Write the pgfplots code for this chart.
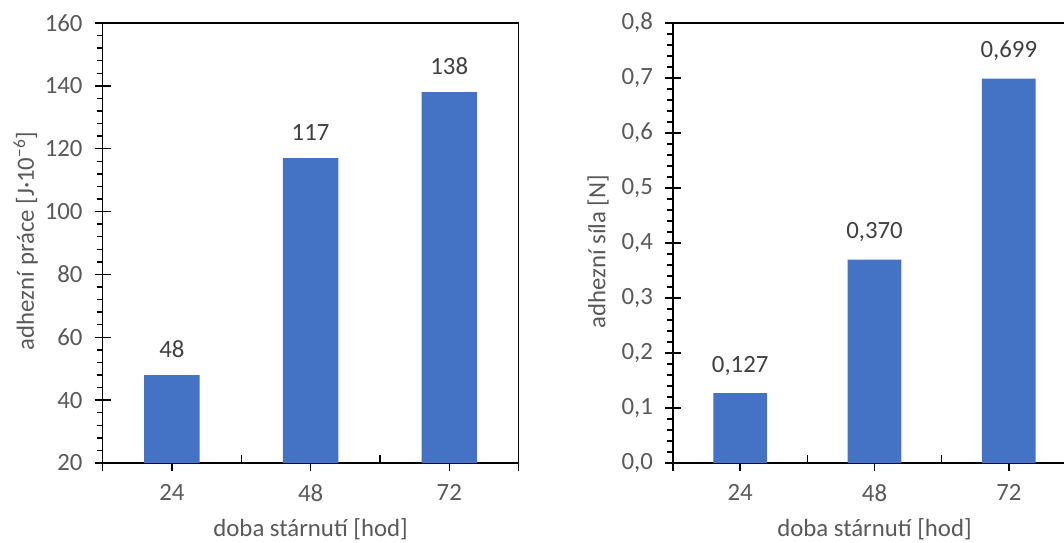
\documentclass[border=0pt]{standalone}
\usepackage{pgfplots}
\pgfplotsset{compat=1.18}
\usepackage{fontspec}
\setmainfont{Carlito}
\definecolor{barblue}{HTML}{4472C4}
\definecolor{txtgray}{HTML}{595959}
\definecolor{valgray}{HTML}{404040}
\newcommand{\chartfont}{\fontsize{12.4}{14}\selectfont}
\pgfplotsset{
  common/.style={
    scale only axis,
    height=220pt,
    axis line style={black, line width=0.8pt},
    every tick/.style={black, line width=0.7pt},
    xmin=-0.5, xmax=2.5,
    xtick={-0.5,0,1,2,2.5},
    xticklabels={,24,48,72,},
    tick pos=left,
    tick align=outside,
    major tick length=4pt,
    minor tick length=3pt,
    minor y tick num=4,
    extra x ticks={0.5,1.5},
    extra x tick labels={},
    extra x tick style={tick align=inside, major tick length=4pt},
    extra y tick style={tick align=inside, major tick length=4pt},
    /pgf/number format/assume math mode=true,
    tick label style={font=\chartfont, text=txtgray},
    xticklabel style={yshift=-3pt},
    yticklabel style={xshift=-2.5pt},
    label style={font=\chartfont, text=txtgray},
    ybar, bar width=0.4,
    nodes near coords,
    every node near coord/.append style={font=\chartfont, text=valgray, anchor=south, inner sep=0pt, yshift=8.5pt},
    xlabel={doba stárnutí [hod]},
    xlabel style={at={(axis description cs:0.5,-0.15)}, anchor=center},
  }
}
\begin{document}
\begin{tikzpicture}
\useasboundingbox (0,0) rectangle (532pt,271pt);
\clip (0,0) rectangle (532pt,271pt);
\begin{axis}[common,
  at={(51.3pt,39.5pt)}, anchor=south west,
  width=208pt,
  ymin=20, ymax=160,
  ytick={20,40,...,160},
  extra y ticks={40,60,...,140},
  extra y tick labels={},
  ylabel={adhezní práce [J·10\textsuperscript{−6}]},
  ylabel style={at={(axis description cs:-0.185,0.505)}, anchor=center},
]
\addplot[fill=barblue, draw=none] coordinates {(0,48) (1,117) (2,138)};
\end{axis}
\begin{axis}[common,
  at={(336.5pt,39.5pt)}, anchor=south west,
  width=201.5pt,
  ymin=0, ymax=0.8,
  ytick={0,0.1,...,0.8},
  extra y ticks={0.1,0.2,...,0.7},
  extra y tick labels={},
  yticklabel style={/pgf/number format/.cd, use comma, fixed, fixed zerofill, precision=1},
  every node near coord/.append style={/pgf/number format/.cd, use comma, fixed, fixed zerofill, precision=3},
  ylabel={adhezní síla [N]},
  ylabel style={at={(axis description cs:-0.186,0.48)}, anchor=center},
]
\addplot[fill=barblue, draw=none] coordinates {(0,0.127) (1,0.370) (2,0.699)};
\end{axis}
\end{tikzpicture}
\end{document}
